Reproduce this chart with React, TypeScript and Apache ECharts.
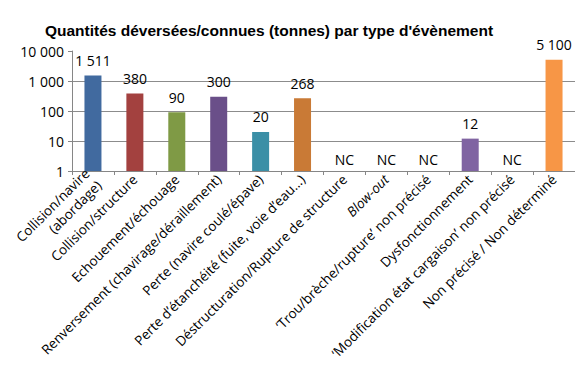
import React, { useEffect, useRef } from "react";
import * as echarts from "echarts";

// Event types (x axis)
const categories: string[] = [
  "Collision/navire\n(abordage)",
  "Collision/structure",
  "Echouement/échouage",
  "Renversement (chavirage/déraillement)",
  "Perte (navire coulé/épave)",
  "Perte d’étanchéité (fuite, voie d’eau…)",
  "Déstructuration/Rupture de structure",
  "{i|Blow-out}",
  "‘Trou/brèche/rupture’ non précisé",
  "Dysfonctionnement",
  "‘Modification état cargaison’ non précisé",
  "Non précisé / Non déterminé",
];

// Spilled / known quantities in tonnes; null = not known (NC)
const quantities: (number | null)[] = [1511, 380, 90, 300, 20, 268, null, null, null, 12, null, 5100];

const barColors: string[] = [
  "#416a9f",
  "#a3413f",
  "#7f9a45",
  "#6a4f89",
  "#3b8fa6",
  "#c97a36",
  "#4f81bd",
  "#c0504d",
  "#9bbb59",
  "#8064a2",
  "#4bacc6",
  "#f79646",
];

const yTicks: number[] = [1, 10, 100, 1000, 10000];

const fmt = (v: number) => String(Math.round(v)).replace(/\B(?=(\d{3})+(?!\d))/g, " ");

export default function App() {
  const ref = useRef<HTMLDivElement>(null);
  useEffect(() => {
    if (!ref.current) return;
    const chart = echarts.init(ref.current, undefined, { renderer: "svg" });
    const font = "Open Sans";
    chart.setOption({
      animation: false,
      backgroundColor: "#ffffff",
      title: {
        text: "Quantités déversées/connues (tonnes) par type d'évènement",
        left: 264,
        textAlign: "center",
        top: 17,
        textStyle: { fontFamily: "Liberation Sans", fontWeight: "bold", fontSize: 15.5, color: "#000" },
      },
      grid: { left: 72, right: -2, top: 51, bottom: 203, containLabel: false },
      xAxis: {
        type: "category",
        data: categories,
        axisLine: { lineStyle: { color: "#868686" } },
        axisTick: { show: true, length: 4, alignWithLabel: false, lineStyle: { color: "#868686" } },
        axisLabel: {
          interval: 0,
          rotate: 45,
          margin: 6,
          fontFamily: font,
          fontSize: 13.5,
          color: "#000",
          lineHeight: 17,
          rich: { i: { fontStyle: "italic", fontFamily: font, fontSize: 13.5, color: "#000" } },
        },
      },
      yAxis: {
        type: "log",
        logBase: 10,
        min: yTicks[0],
        max: yTicks[yTicks.length - 1],
        axisLine: { show: true, lineStyle: { color: "#868686" } },
        axisTick: { show: true, length: 4, inside: false, lineStyle: { color: "#868686" } },
        splitLine: { show: true, showMaxLine: false, lineStyle: { color: "#8c8c8c" } },
        axisLabel: {
          formatter: (v: number) => fmt(v),
          fontFamily: font,
          fontSize: 14,
          color: "#000",
          margin: 8,
        },
      },
      series: [
        {
          type: "bar",
          barWidth: 17,
          data: quantities.map((v, i) =>
            v === null ? "-" : { value: v, itemStyle: { color: barColors[i] } }
          ),
          label: {
            show: true,
            position: "top",
            distance: 8,
            formatter: (p: any) => fmt(p.value),
            fontFamily: font,
            fontSize: 14,
            color: "#000",
          },
        },
        {
          // "NC" markers for unknown quantities, sitting on the baseline
          type: "bar",
          barWidth: 17,
          barGap: "-100%",
          data: quantities.map((v) => (v === null ? 1 : "-")),
          itemStyle: { color: "transparent" },
          label: {
            show: true,
            position: "top",
            distance: 5,
            formatter: "NC",
            fontFamily: font,
            fontSize: 14,
            color: "#000",
          },
        },
      ],
    });
    return () => chart.dispose();
  }, []);
  return <div ref={ref} style={{ position: "absolute", left: 0, top: 0, width: 575, height: 374 }} />;
}
